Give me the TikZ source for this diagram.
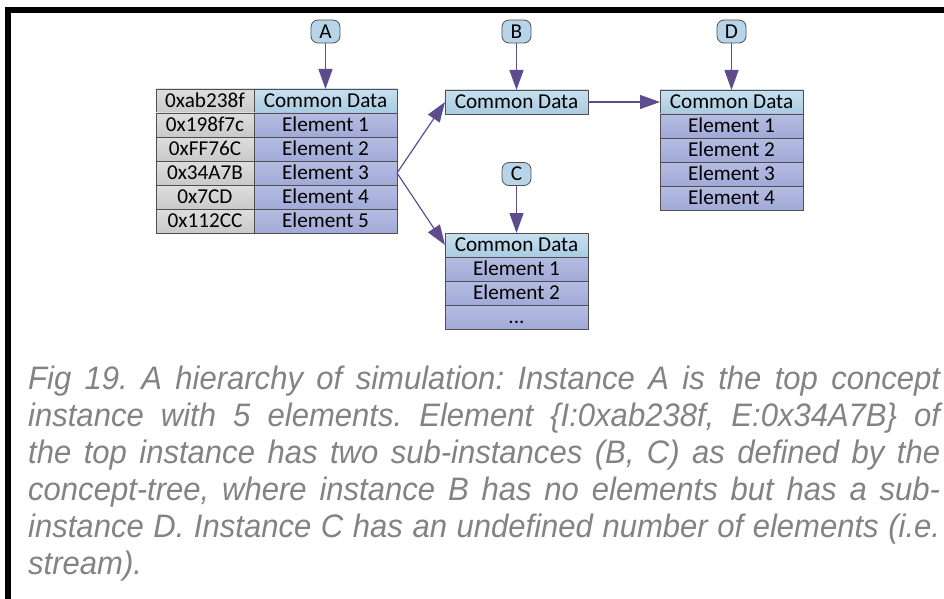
\documentclass[tikz,border=0pt]{standalone}
\usepackage{fontspec}
\setmainfont{Carlito}
\newfontfamily\capfont[FakeStretch=0.955]{Liberation Sans}
\usetikzlibrary{arrows.meta}

\definecolor{cellline}{HTML}{4F4F4F}
\definecolor{linkc}{HTML}{5E4C8F}
\definecolor{capgray}{HTML}{838383}
\definecolor{cdtop}{HTML}{C8E0EF}
\definecolor{cdbot}{HTML}{A9CBE1}
\definecolor{eltop}{HTML}{B6BDE3}
\definecolor{elbot}{HTML}{A1A9D7}
\definecolor{adtop}{HTML}{DEDEDE}
\definecolor{adbot}{HTML}{C9C9C9}
\definecolor{bubfill}{HTML}{B7D4E8}

\tikzset{
  cell/.style={draw=cellline, line width=0.8pt, inner sep=0pt, outer sep=0pt,
    minimum height=24pt, anchor=north west, text height=13.6pt, text depth=0.4pt,
    font=\fontsize{21.2}{24}\selectfont},
  addr/.style={cell, minimum width=98pt, top color=adtop, bottom color=adbot},
  common/.style={cell, minimum width=143pt, top color=cdtop, bottom color=cdbot},
  elem/.style={cell, minimum width=143pt, top color=eltop, bottom color=elbot},
  bubble/.style={draw=cellline, line width=0.8pt, fill=bubfill, rounded corners=7pt,
    minimum width=29pt, minimum height=23pt, inner sep=0pt, text height=13.6pt,
    text depth=0.4pt, font=\fontsize{21.2}{24}\selectfont},
  link/.style={draw=linkc, line width=1.2pt, -{Triangle[length=20pt,width=14pt]}},
  capline/.style={anchor=base west, inner sep=0pt, text=capgray,
    font=\capfont\itshape\fontsize{32.5}{37}\selectfont\frenchspacing},
}

\begin{document}
\begin{tikzpicture}[x=1pt,y=-1pt]
\useasboundingbox (0,0) rectangle (944,599);
\fill[white] (0,0) rectangle (944,599);

% frame bars along the top and left
\fill[black] (5,7) rectangle (944,13);
\fill[black] (5,7) rectangle (11,599);

% instance A: address column and data column
\node[addr]   (aL0) at (156,89)  {0xab238f};
\node[addr]   (aL1) at (156,113) {0x198f7c};
\node[addr]   (aL2) at (156,137) {0xFF76C};
\node[addr]   (aL3) at (156,161) {0x34A7B};
\node[addr]   (aL4) at (156,185) {0x7CD};
\node[addr]   (aL5) at (156,209) {0x112CC};
\node[common] (aR0) at (254,89)  {Common Data};
\node[elem]   (aR1) at (254,113) {Element 1};
\node[elem]   (aR2) at (254,137) {Element 2};
\node[elem]   (aR3) at (254,161) {Element 3};
\node[elem]   (aR4) at (254,185) {Element 4};
\node[elem]   (aR5) at (254,209) {Element 5};

% instance B
\node[common] (b0) at (445,90) {Common Data};

% instance C
\node[common] (c0) at (445,233) {Common Data};
\node[elem]   (c1) at (445,257) {Element 1};
\node[elem]   (c2) at (445,281) {Element 2};
\node[elem]   (c3) at (445,305) {...};

% instance D
\node[common] (d0) at (660,90)  {Common Data};
\node[elem]   (d1) at (660,114) {Element 1};
\node[elem]   (d2) at (660,138) {Element 2};
\node[elem]   (d3) at (660,162) {Element 3};
\node[elem]   (d4) at (660,186) {Element 4};

% instance labels
\node[bubble] (bubA) at (325.5,31.5) {A};
\node[bubble] (bubB) at (516.5,31.5) {B};
\node[bubble] (bubD) at (731.5,31.5) {D};
\node[bubble] (bubC) at (516.5,174)  {C};

% connectors
\draw[link] (bubA) -- (aR0);
\draw[link] (bubB) -- (b0);
\draw[link] (bubD) -- (d0);
\draw[link] (bubC) -- (c0);
\draw[link] (aR3.east) -- (b0.west);
\draw[link] (aR3.east) -- (c0.west);
\draw[link] (b0) -- (d0);

% caption, one justified line per node
\node[capline] (cap1) at (28,389) {\hbox to 912pt{Fig 19. A hierarchy of simulation: Instance A is the top concept}};
\node[capline] (cap2) at (28,426) {\hbox to 912pt{instance with 5 elements. Element \{I:0xab238f, E:0x34A7B\} of}};
\node[capline] (cap3) at (28,463) {\hbox to 912pt{the top instance has two sub-instances (B, C) as defined by the}};
\node[capline] (cap4) at (28,500) {\hbox to 912pt{concept-tree, where instance B has no elements but has a sub-}};
\node[capline] (cap5) at (28,537) {\hbox to 912pt{instance D. Instance C has an undefined number of elements (i.e.}};
\node[capline] (cap6) at (28,574) {stream).};
\end{tikzpicture}
\end{document}
